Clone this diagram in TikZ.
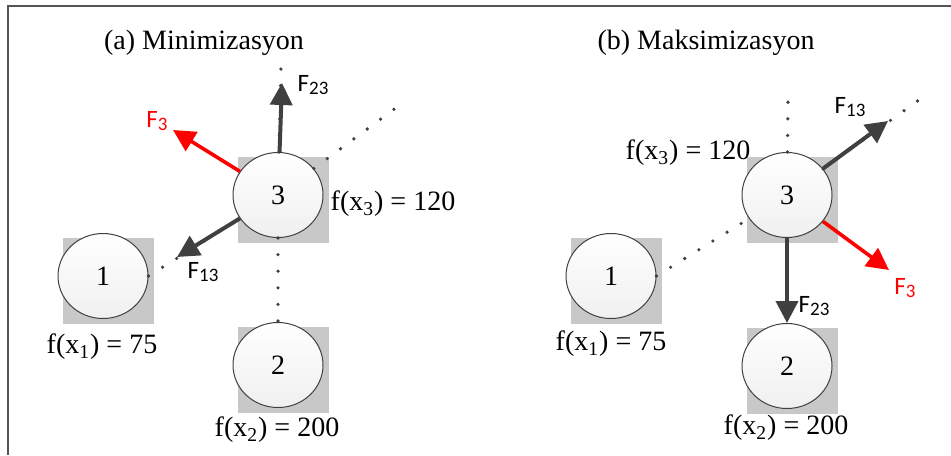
\documentclass[tikz,border=0pt]{standalone}
\usepackage{fontspec}
\setmainfont{Liberation Serif}
\newfontfamily\forcefont{Carlito}
\usepackage{tikz}
\usetikzlibrary{arrows.meta, positioning, shapes.geometric}
\definecolor{forcegray}{HTML}{404040}
\definecolor{padgray}{HTML}{C8C8C8}
\definecolor{framegray}{HTML}{555555}
\newcommand{\fsub}[1]{\raisebox{-0.3ex}{\fontsize{9.5}{9.5}\selectfont #1}}

\begin{document}
\begin{tikzpicture}[
  x=0.5pt, y=-0.5pt,
  ball/.style={
    ellipse, minimum width=45pt, minimum height=42.5pt, inner sep=0pt,
    draw=forcegray, line width=0.5pt,
    top color=white, bottom color=gray!12,
    font=\fontsize{14}{14}\selectfont
  },
  pad/.style={rectangle, minimum width=45.5pt, minimum height=43pt,
    inner sep=0pt, fill=padgray, draw=none},
  force/.style={-{Triangle[length=11pt, width=11pt]}, line width=2pt, color=forcegray},
  pull/.style={-{Triangle[length=11pt, width=11pt]}, line width=1.8pt, color=red},
  dotline/.style={line width=1.8pt, color=forcegray, line cap=round,
    dash pattern=on 0pt off 8.3pt},
  val/.style={font=\fontsize{14}{14}\selectfont, inner sep=1pt},
  flabel/.style={font=\forcefont\fontsize{12.5}{12.5}\selectfont, inner sep=1pt},
  title/.style={font=\fontsize{14}{14}\selectfont}
]
\useasboundingbox (0,0) rectangle (951,455);

% Frame
\draw[framegray, line width=1pt] (951,6) -| (8,455);

% (a) Minimization
\node[title] (ta) at (204,43) {(a) Minimizasyon};

\coordinate (a23tip) at (282,83);
\coordinate (a23far) at (281,66);
\coordinate (a13tip) at (177,257);
\coordinate (a13far) at (397,107);
\coordinate (a3tip) at (173,130);

\node[pad] (a1p) at (108,281) {};
\node[pad] (a2p) at (283,370) {};
\node[pad] (a3p) at (283,200) {};
\node[ball] (a1) at (103,276) {1};
\node[ball] (a2) at (278,365) {2};
\node[ball] (a3) at (278,195) {3};

\draw[dotline] (a1.east) -- (a3);
\draw[dotline] (a3) -- (a13far);
\draw[dotline] (a3) -- (a2);
\draw[dotline] (a3) -- (a23far);

\draw[force] (a3) -- (a23tip);
\draw[force] (a3) -- (a13tip);
\draw[pull] (a3) -- (a3tip);

\node[flabel] (fa23) at (313,85) {F\fsub{23}};
\node[flabel] (fa13) at (203,272) {F\fsub{13}};
\node[flabel, red] (fa3) at (157,121) {F\fsub{3}};

\node[val] (va3) at (393,204) {f(x\textsubscript{3}) = 120};
\node[val] (va1) at (102,347) {f(x\textsubscript{1}) = 75};
\node[val] (va2) at (277,430) {f(x\textsubscript{2}) = 200};

% (b) Maximization
\node[title] (tb) at (706,43) {(b) Maksimizasyon};

\coordinate (b23far) at (788,101);
\coordinate (b13tip) at (888,121);
\coordinate (b13far) at (923,97);
\coordinate (b3tip) at (889,270);

\node[pad] (b1p) at (616,281) {};
\node[pad] (b2p) at (792,371) {};
\node[pad] (b3p) at (792,200) {};
\node[ball] (b1) at (611,276) {1};
\node[ball] (b2) at (787,366) {2};
\node[ball] (b3) at (787,195) {3};

\draw[dotline] (b1.east) -- (b3);
\draw[dotline] (b3) -- (b13far);
\draw[dotline] (b3) -- (b23far);

\draw[force] (b3) -- (b2);
\draw[force] (b3) -- (b13tip);
\draw[pull] (b3) -- (b3tip);

\node[flabel] (fb13) at (850,107) {F\fsub{13}};
\node[flabel] (fb23) at (814,306) {F\fsub{23}};
\node[flabel, red] (fb3) at (905,288) {F\fsub{3}};

\node[val] (vb3) at (688,153) {f(x\textsubscript{3}) = 120};
\node[val] (vb1) at (611,344) {f(x\textsubscript{1}) = 75};
\node[val] (vb2) at (786,428) {f(x\textsubscript{2}) = 200};

\end{tikzpicture}
\end{document}
